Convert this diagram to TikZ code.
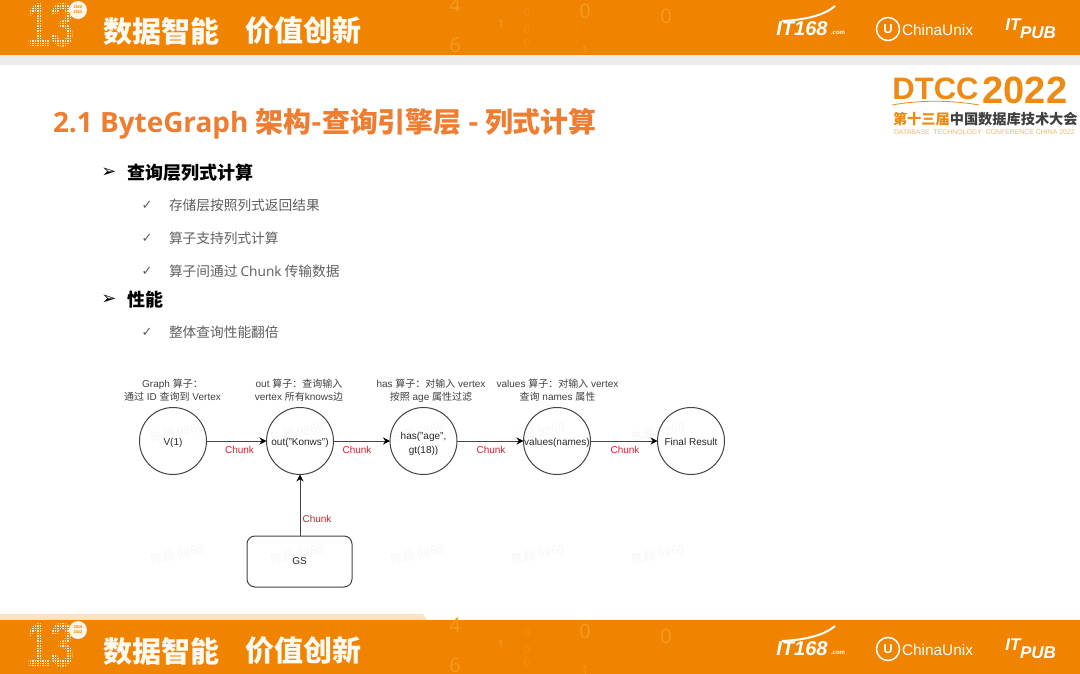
\documentclass[tikz,border=0pt]{standalone}
\usepackage{fontspec}
\setmainfont{Liberation Sans}
\newfontfamily\cjk{Noto Sans CJK SC}
\newfontfamily\osans{Open Sans}
\newfontfamily\djv{DejaVu Sans}
\usetikzlibrary{arrows.meta}
\definecolor{bandor}{HTML}{F08300}
\definecolor{titleor}{HTML}{EE7D31}
\definecolor{digitor}{HTML}{F59A1E}
\definecolor{digitfaint}{HTML}{F29012}
\definecolor{markgr}{HTML}{F6F6F6}
\definecolor{subgr}{HTML}{5F5F5F}
\definecolor{chunkred}{HTML}{D9202C}
\definecolor{linegr}{HTML}{444444}
\definecolor{logoor}{HTML}{EE8A12}
\definecolor{logopale}{HTML}{FBE3C4}
\tikzset{
  x=1pt,y=-1pt,
  every node/.style={inner sep=0pt,outer sep=0pt},
  opcircle/.style={draw=linegr,line width=1pt,circle,minimum size=67pt,font=\fontsize{10}{14}\selectfont,text=black!85},
  oneline/.style={text height=9pt,text depth=1pt},
  gsbox/.style={draw=linegr,line width=1pt,rounded corners=8pt,minimum width=105pt,minimum height=51pt,font=\fontsize{10}{12}\selectfont,text=black!85},
  flow/.style={draw=linegr,line width=1pt,-{Stealth[length=7pt,width=7pt,color=black]}},
  chunklabel/.style={font=\fontsize{10}{12}\selectfont,text=chunkred},
  caption/.style={font=\fontsize{10}{13.3}\selectfont,text=black!75,align=center},
  head/.style={anchor=west,font=\cjk\bfseries\fontsize{18}{20}\selectfont,text=black},
  sub/.style={anchor=west,font=\cjk\fontsize{13.7}{16}\selectfont,text=subgr},
  headmark/.style={font=\djv\bfseries\fontsize{18}{20}\selectfont,text=black},
  submark/.style={font=\djv\fontsize{13}{14}\selectfont,text=subgr},
  slogan/.style={anchor=west,font=\cjk\bfseries\fontsize{29}{32}\selectfont,text=white!95!orange},
  digit/.style={font=\osans\fontsize{20}{22}\selectfont,text=digitor},
  smalldigit/.style={font=\osans\fontsize{12}{14}\selectfont,text=digitor},
  faintdigit/.style={font=\osans\fontsize{11}{13}\selectfont,text=digitfaint},
  wmark/.style={font=\cjk\fontsize{12}{14}\selectfont,text=markgr,rotate=12},
  logotext/.style={font=\bfseries\itshape\fontsize{20}{21}\selectfont,text=white},
  pubtext/.style={font=\bfseries\itshape\fontsize{17}{18}\selectfont,text=white},
}
\newcommand{\bandart}[1]{%
  \fill[bandor] (0,#1) rectangle (1080,#1+55);
  \node[digit] at (455,#1+5) {4};
  \node[digit] at (455,#1+45) {6};
  \node[smalldigit] at (501,#1+24) {1};
  \foreach \fy in {13,30,43} {\node[faintdigit] at (527,#1+\fy) {0};}
  \node[digit] at (585,#1+11) {0};
  \node[digit] at (666,#1+16) {0};
  \node[smalldigit] at (585,#1+50) {1};
  % anniversary mark: dotted numerals
  \node[font=\bfseries\fontsize{62}{62}\selectfont,text=white!85!orange,xscale=0.7,transform shape] at (51,#1+25) {13};
  \foreach \gx in {24,26.5,...,78} {\draw[bandor,line width=0.45pt] (\gx,#1+1) -- (\gx,#1+50);}
  \foreach \gy in {2,4.5,...,50} {\draw[bandor,line width=0.45pt] (24,#1+\gy) -- (78,#1+\gy);}
  \fill[white!92!orange] (78,#1+10) circle (9pt);
  \node[font=\bfseries\fontsize{4}{5}\selectfont,text=bandor,align=center] at (78,#1+10) {2010\\2022};
  \node[slogan] at (103,#1+31) {数据智能};
  \node[slogan] at (245,#1+31) {价值创新};
  % partner logos
  \node[logotext] at (802,#1+29) {IT168};
  \node[font=\bfseries\fontsize{6}{7}\selectfont,text=white] at (838,#1+33) {.com};
  \draw[white,line width=2pt] (782,#1+21) .. controls (805,#1+20) and (825,#1+15) .. (835,#1+6);
  \draw[white,line width=1.5pt] (888,#1+29) circle (11.5pt);
  \node[font=\bfseries\fontsize{13}{14}\selectfont,text=white] at (888,#1+29) {U};
  \node[font=\fontsize{15.4}{18}\selectfont,text=white,anchor=west] at (902,#1+30) {ChinaUnix};
  \node[pubtext] at (1013,#1+25) {IT};
  \node[pubtext] at (1038,#1+33) {PUB};
}
\begin{document}
\begin{tikzpicture}
\useasboundingbox (0,0) rectangle (1080,674);
\fill[white] (0,0) rectangle (1080,674);
% header and footer bands
\fill[black!8] (0,55) rectangle (1080,65);
\bandart{0}
\fill[logopale] (0,614) -- (423,614) -- (427,620) -- (0,620) -- cycle;
\bandart{620}
% watermarks
\foreach \wx in {177,297,417,538,658} {
  \node[wmark] at (\wx,432) {陈超 9868};
  \node[wmark] at (\wx,554) {陈超 9868};
}
% conference logo
\node[font=\bfseries\fontsize{31}{32}\selectfont,text=logoor] (dtcc) at (935.5,89) {DTCC};
\draw[logoor,line width=0.8pt] (892,105) .. controls (920,100) and (950,100) .. (979,105);
\node[font=\bfseries\fontsize{38}{38}\selectfont,text=logoor] (yr) at (1025,90) {2022};
\node[anchor=west,font=\cjk\bfseries\fontsize{14.2}{16}\selectfont] (cn) at (893,119) {\textcolor{logoor}{第十三届}\textcolor{black!75}{中国数据库技术大会}};
\node[anchor=west,font=\fontsize{6.9}{8}\selectfont,text=logoor!60] (en) at (894,132.5) {DATABASE\ \ TECHNOLOGY\ \ CONFERENCE CHINA 2022};
% title
\node[anchor=west,text=titleor,font=\bfseries\fontsize{27.9}{30}\selectfont] (title) at (53,123.5)
  {\osans 2.1 ByteGraph \cjk 架构-查询引擎层 - 列式计算};
% bullets
\node[headmark] (m1) at (109,172.5) {➢};
\node[head] (h1) at (127,172.5) {查询层列式计算};
\node[submark] (c1) at (147,205) {✓};
\node[sub] (s1) at (169,205) {存储层按照列式返回结果};
\node[submark] (c2) at (147,238) {✓};
\node[sub] (s2) at (169,238) {算子支持列式计算};
\node[submark] (c3) at (147,271) {✓};
\node[sub] (s3) at (169,271) {算子间通过 {\osans Chunk} 传输数据};
\node[headmark] (m2) at (109,299.5) {➢};
\node[head] (h2) at (127,299.5) {性能};
\node[submark] (c4) at (147,332) {✓};
\node[sub] (s4) at (169,332) {整体查询性能翻倍};
% diagram
\node[opcircle,oneline] (v) at (173,441) {V(1)};
\node[opcircle,oneline] (out) at (300,441) {out("Konws")};
\node[opcircle,align=center] (has) at (423.5,441) {\rule{0pt}{13.5pt}has("age",\\gt(18))};
\node[opcircle,oneline] (val) at (557,441) {values(names)};
\node[opcircle,oneline] (fin) at (691,441) {Final Result};
\node[gsbox] (gs) at (299.5,561.5) {GS};
\draw[flow] (v) -- (out);
\draw[flow] (out) -- (has);
\draw[flow] (has) -- (val);
\draw[flow] (val) -- (fin);
\draw[flow] (gs.north -| out) -- (out);
\node[chunklabel] (k1) at (239.5,450) {Chunk};
\node[chunklabel] (k2) at (357,450) {Chunk};
\node[chunklabel] (k3) at (491,450) {Chunk};
\node[chunklabel] (k4) at (625,450) {Chunk};
\node[chunklabel] (k5) at (317,518.5) {Chunk};
\node[caption] (t1) at (172.5,390.5) {Graph {\cjk 算子：}\\{\cjk 通过} ID {\cjk 查询到} Vertex};
\node[caption] (t2) at (299,390.5) {out {\cjk 算子：查询输入}\\vertex {\cjk 所有}knows{\cjk 边}};
\node[caption] (t3) at (431,390.5) {has {\cjk 算子：对输入} vertex\\{\cjk 按照} age {\cjk 属性过滤}};
\node[caption] (t4) at (557.5,390.5) {values {\cjk 算子：对输入} vertex\\{\cjk 查询} names {\cjk 属性}};
\end{tikzpicture}
\end{document}
